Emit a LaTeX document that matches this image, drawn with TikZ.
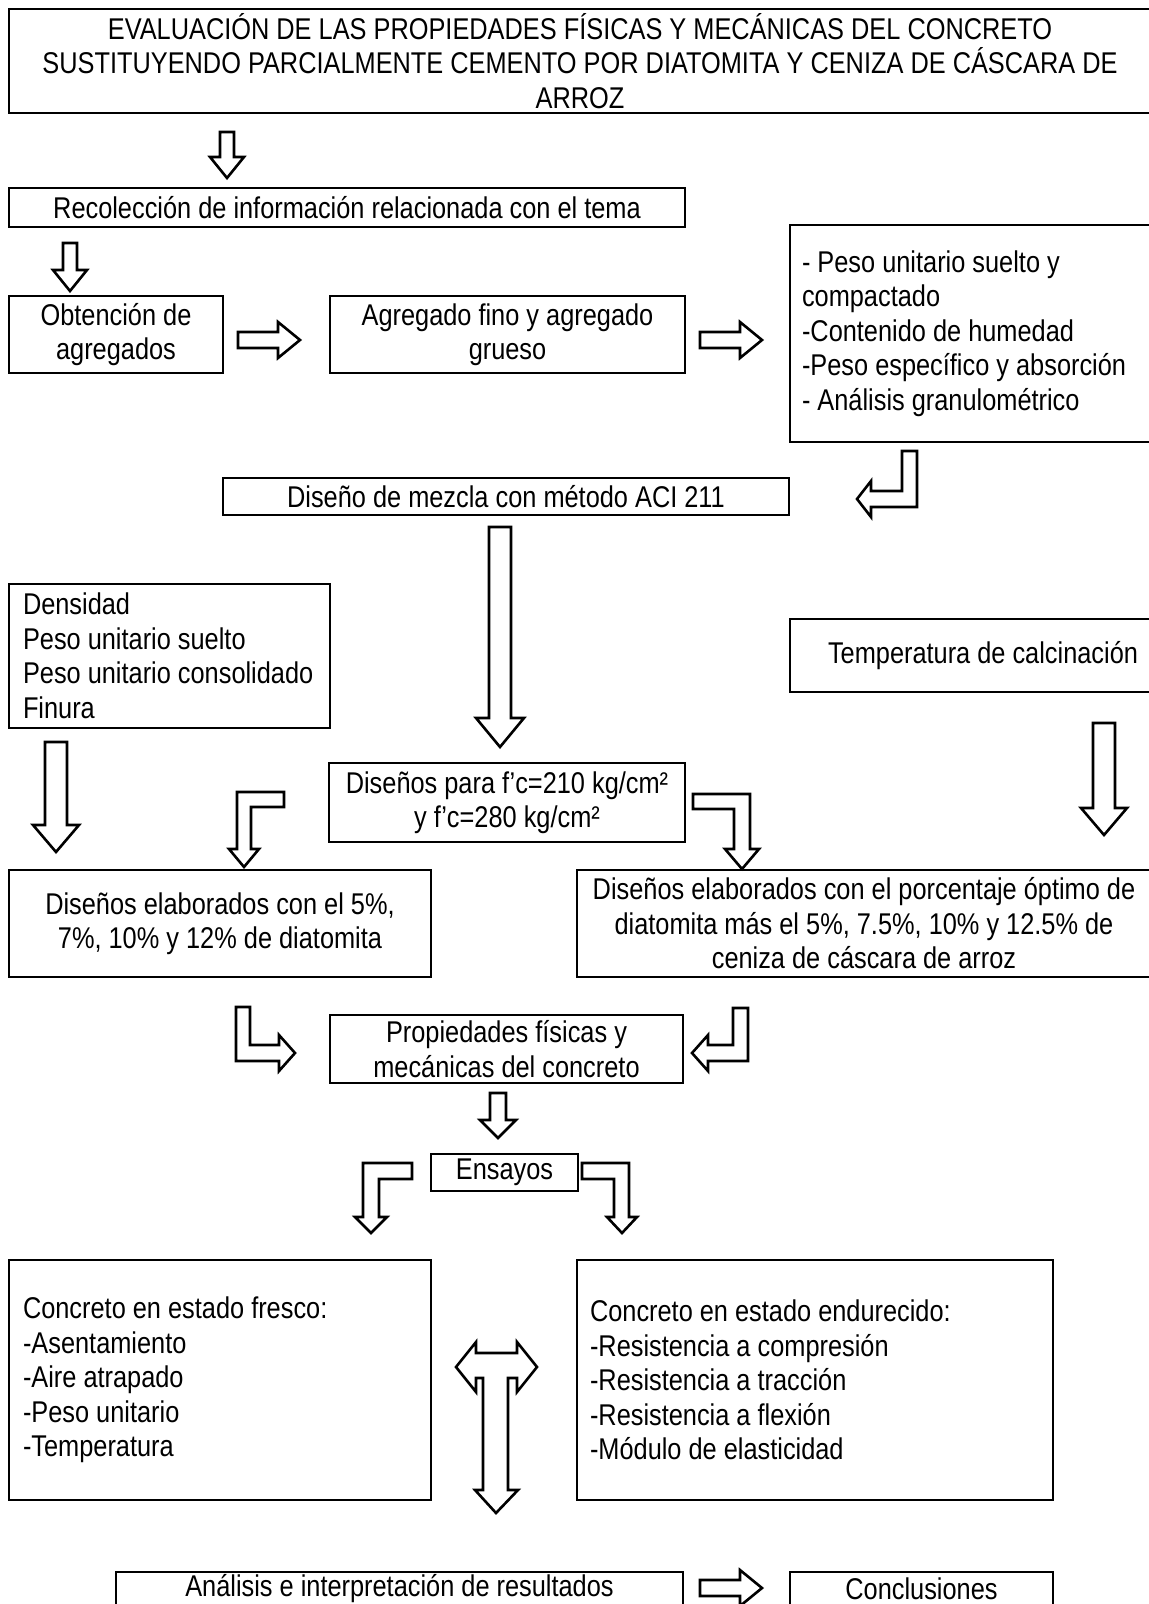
\documentclass[tikz,border=0pt]{standalone}
\usepackage{fontspec}
\setmainfont[FakeStretch=0.845]{Liberation Sans}
\usepackage{tikz}
\usetikzlibrary{calc}

\newcommand{\upx}{0.5pt}
% flecha hueca vertical: x, y inicio, y punta, medio cuerpo, media cabeza, largo cabeza
\newcommand{\flechaV}[6]{%
  \draw[flecha] ({#1-#4},#2) -- ({#1+#4},#2) -- ({#1+#4},{#3-#6}) -- ({#1+#5},{#3-#6})
    -- (#1,#3) -- ({#1-#5},{#3-#6}) -- ({#1-#4},{#3-#6}) -- cycle;}
% flecha hueca horizontal: y, x inicio, x punta, medio cuerpo, media cabeza, largo cabeza
\newcommand{\flechaH}[6]{%
  \draw[flecha] (#2,{#1-#4}) -- ({#3-#6},{#1-#4}) -- ({#3-#6},{#1-#5})
    -- (#3,#1) -- ({#3-#6},{#1+#5}) -- ({#3-#6},{#1+#4}) -- (#2,{#1+#4}) -- cycle;}

\tikzset{
  caja/.style={draw, line width=1pt, inner sep=0pt, align=center,
    font=\fontsize{15}{17.25}\selectfont},
  lista/.style={caja, align=flush left, inner xsep=14*\upx},
  flecha/.style={draw, line width=1.3pt, fill=white, line join=miter}
}

\begin{document}
\begin{tikzpicture}[x=0.5pt,y=-0.5pt]
      \useasboundingbox (0,0) rectangle (1149,1604);
      \fill[white] (0,0) rectangle (1149,1604);
      \clip (0,0) rectangle (1149,1604);

      % cajas
      \node[caja, minimum width=1142*\upx, minimum height=104*\upx] (titulo) at (580,61)
        {EVALUACIÓN DE LAS PROPIEDADES FÍSICAS Y MECÁNICAS DEL CONCRETO\\
         SUSTITUYENDO PARCIALMENTE CEMENTO POR DIATOMITA Y CENIZA DE CÁSCARA DE\\
         ARROZ};
      \node[caja, minimum width=676*\upx, minimum height=39*\upx] (recol) at (347,207.5)
        {Recolección de información relacionada con el tema};
      \node[caja, minimum width=214*\upx, minimum height=77*\upx] (obtencion) at (116,334.5)
        {Obtención de\\agregados};
      \node[caja, minimum width=355*\upx, minimum height=77*\upx] (agregado) at (507.5,334.5)
        {Agregado fino y agregado\\grueso};
      \node[lista, inner xsep=12*\upx, text width=338*\upx, minimum height=217*\upx] (ensayoAgr) at (971,333.5)
        {- Peso unitario suelto y\\compactado\\-Contenido de humedad\\-Peso específico y absorción\\- Análisis granulométrico};
      \node[caja, minimum width=566*\upx, minimum height=37*\upx] (mezcla) at (506,496.5)
        {Diseño de mezcla con método ACI 211};
      \node[lista, text width=293*\upx, minimum height=144*\upx] (propCem) at (169.5,656)
        {Densidad\\Peso unitario suelto\\Peso unitario consolidado\\Finura};
      \node[caja, minimum width=386*\upx, minimum height=73*\upx] (temp) at (983,655.5)
        {Temperatura de calcinación};
      \node[caja, minimum width=356*\upx, minimum height=79*\upx] (fc) at (507,802.5)
        {Diseños para f’c=210 kg/cm²\\y f’c=280 kg/cm²};
      \node[caja, minimum width=422*\upx, minimum height=107*\upx] (diat) at (220,923.5)
        {Diseños elaborados con el 5\%,\\7\%, 10\% y 12\% de diatomita};
      \node[caja, minimum width=574*\upx, minimum height=107*\upx] (ceniza) at (864,923.5)
        {Diseños elaborados con el porcentaje óptimo de\\diatomita más el 5\%, 7.5\%, 10\% y 12.5\% de\\ceniza de cáscara de arroz};
      \node[caja, minimum width=353*\upx, minimum height=68*\upx] (prop) at (506.5,1049)
        {Propiedades físicas y\\mecánicas del concreto};
      \node[caja, minimum width=147*\upx, minimum height=37*\upx] (ensayos) at (504.5,1172.5)
        {Ensayos};
      \node[lista, text width=394*\upx, minimum height=240*\upx] (fresco) at (220,1380)
        {Concreto en estado fresco:\\-Asentamiento\\-Aire atrapado\\-Peso unitario\\-Temperatura};
      \node[lista, inner xsep=13*\upx, text width=450*\upx, minimum height=240*\upx] (endurecido) at (815,1380)
        {Concreto en estado endurecido:\\-Resistencia a compresión\\-Resistencia a tracción\\-Resistencia a flexión\\-Módulo de elasticidad};
      \node[caja, minimum width=567*\upx, minimum height=34*\upx] (analisis) at (399.5,1589)
        {Análisis e interpretación de resultados};
      \node[caja, minimum width=263*\upx, minimum height=34*\upx] (concl) at (921.5,1589)
        {Conclusiones};

      % flechas rectas
      \flechaV{227}{132}{178}{7}{17}{21}
      \flechaV{70}{243}{291}{7}{17}{21}
      \flechaH{340}{238}{300}{8}{18}{22}
      \flechaH{340}{700}{762}{8}{18}{22}
      \flechaV{500}{527}{747}{11}{24}{29}
      \flechaV{56}{742}{852}{11}{23}{27}
      \flechaV{1104}{723}{835}{11}{23}{27}
      \flechaV{498}{1093}{1138}{8}{18}{18}
      \flechaH{1588}{700}{762}{8}{18}{22}

      % flechas dobladas
      \draw[flecha] (902,451) -- (917,451) -- (917,507) -- (871,507) -- (871,517)
        -- (857,499) -- (871,481) -- (871,491) -- (902,491) -- cycle;
      \draw[flecha] (284,792) -- (284,807) -- (251,807) -- (251,849) -- (259,849)
        -- (244,867) -- (229,849) -- (237,849) -- (237,792) -- cycle;
      \draw[flecha] (693,794) -- (750,794) -- (750,849) -- (759,849) -- (742,869)
        -- (725,849) -- (734,849) -- (734,809) -- (693,809) -- cycle;
      \draw[flecha] (236,1007) -- (250,1007) -- (250,1045) -- (279,1045) -- (279,1035)
        -- (295,1053) -- (279,1071) -- (279,1061) -- (236,1061) -- cycle;
      \draw[flecha] (733,1008) -- (748,1008) -- (748,1061) -- (708,1061) -- (708,1071)
        -- (692,1053) -- (708,1035) -- (708,1045) -- (733,1045) -- cycle;
      \draw[flecha] (412,1163) -- (412,1179) -- (379,1179) -- (379,1217) -- (387,1217)
        -- (371,1233) -- (355,1217) -- (363,1217) -- (363,1163) -- cycle;
      \draw[flecha] (582,1163) -- (629,1163) -- (629,1217) -- (637,1217) -- (622,1233)
        -- (607,1217) -- (614,1217) -- (614,1179) -- (582,1179) -- cycle;

      % flecha en T
      \draw[flecha] (456,1367) -- (476,1342) -- (476,1353) -- (517,1353) -- (517,1342)
        -- (537,1367) -- (517,1392) -- (517,1378) -- (508,1378) -- (508,1490)
        -- (518,1490) -- (496,1513) -- (475,1490) -- (483,1490) -- (483,1378)
        -- (476,1378) -- (476,1392) -- cycle;
\end{tikzpicture}
\end{document}
